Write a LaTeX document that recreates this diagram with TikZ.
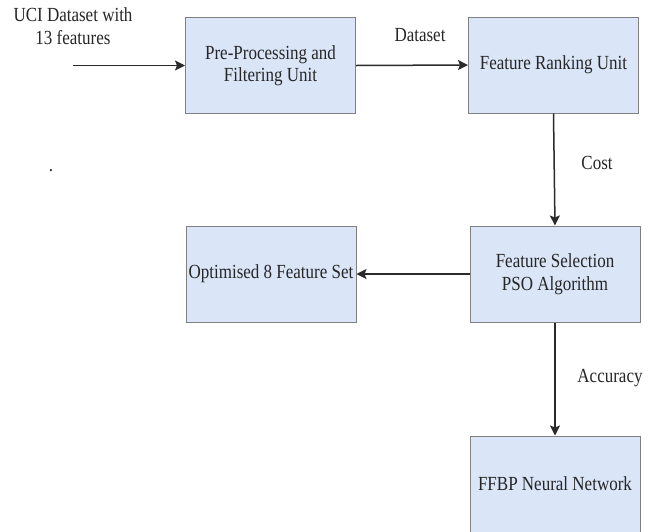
\documentclass[tikz,border=0pt]{standalone}
\usepackage{fontspec}
\setmainfont{Liberation Serif}[FakeStretch=0.85]
\usetikzlibrary{arrows.meta}
\definecolor{boxfill}{HTML}{DAE6F8}
\definecolor{boxline}{HTML}{808080}
\definecolor{txt}{HTML}{262626}
\definecolor{lineclr}{HTML}{2A2A2A}
\begin{document}
\begin{tikzpicture}[x=1pt,y=-1pt,
  unitbox/.style={draw=boxline,line width=1pt,fill=boxfill,minimum width=170pt,minimum height=96pt,inner sep=0pt,align=center,text=txt,font=\fontsize{20}{22.5}\selectfont},
  lbl/.style={text=txt,align=center,font=\fontsize{20}{22.5}\selectfont,inner sep=0pt},
  conn/.style={draw=lineclr,line width=1.5pt,-{Stealth[length=10pt,width=10pt,inset=2pt]}}]
\useasboundingbox (0,0) rectangle (657,531);
\node[unitbox] (pre) at (270.5,65.5) {Pre-Processing and\\Filtering Unit};
\node[unitbox] (rank) at (553.5,65) {Feature Ranking Unit};
\node[unitbox] (pso) at (555,274) {Feature Selection\\PSO Algorithm};
\node[unitbox] (opt) at (271,274) {Optimised 8 Feature Set};
\node[unitbox] (ffbp) at (555,484) {FFBP Neural Network};
\coordinate (in) at (73,65.5);
\node[lbl] (uci) at (73,26) {UCI Dataset with\\13 features};
\node[lbl] (ds) at (420,35) {Dataset};
\node[lbl] (cost) at (597,163) {Cost};
\node[lbl] (acc) at (610,378) {Accuracy};
\node[lbl] (dot) at (51,171) {.};
\draw[conn] (in) -- (pre.west);
\draw[conn] (pre.east) -- (rank.west);
\draw[conn] (rank.south) -- (pso.north);
\draw[conn] (pso.west) -- (opt.east);
\draw[conn] (pso.south) -- (ffbp.north);
\end{tikzpicture}
\end{document}
